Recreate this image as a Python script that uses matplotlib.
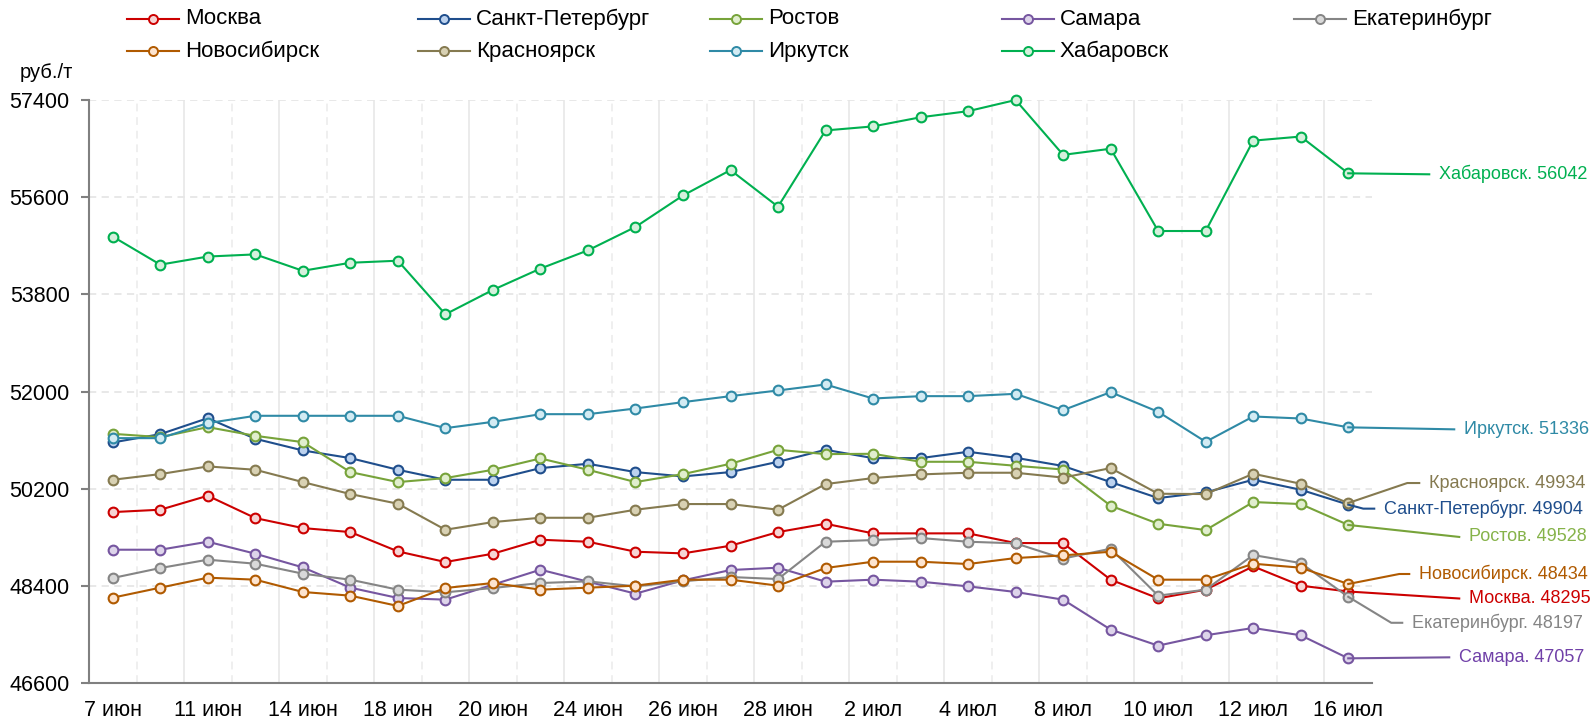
import matplotlib
matplotlib.use("Agg")
import matplotlib.pyplot as plt
from matplotlib.lines import Line2D

plt.rcParams['font.family'] = ['Liberation Sans', 'DejaVu Sans']

# даты торгов (подписи только на каждой второй)
dates = ['7 июн', '10 июн', '11 июн', '13 июн', '14 июн', '15 июн', '18 июн', '19 июн',
         '20 июн', '21 июн', '24 июн', '25 июн', '26 июн', '27 июн', '28 июн', '1 июл',
         '2 июл', '3 июл', '4 июл', '5 июл', '8 июл', '9 июл', '10 июл', '11 июл',
         '12 июл', '15 июл', '16 июл']

# цены, руб./т
moskva = [49766, 49810, 50069, 49655, 49470, 49396, 49038, 48841, 48995, 49254, 49217,
          49032, 49001, 49143, 49396, 49550, 49372, 49372, 49372, 49193, 49190, 48514,
          48168, 48329, 48760, 48403, 48295]
spb = [51056, 51210, 51506, 51124, 50908, 50766, 50550, 50365, 50365, 50581, 50661,
       50507, 50427, 50507, 50698, 50920, 50766, 50766, 50883, 50772, 50620, 50322,
       50026, 50131, 50365, 50180, 49904]
rostov = [51216, 51155, 51340, 51179, 51062, 50507, 50322, 50396, 50550, 50760, 50550,
          50322, 50470, 50661, 50920, 50840, 50846, 50698, 50698, 50624, 50555, 49884,
          49550, 49433, 49952, 49915, 49528]
samara = [49069, 49069, 49217, 48995, 48742, 48366, 48175, 48144, 48421, 48699, 48477,
          48255, 48501, 48693, 48736, 48477, 48514, 48477, 48390, 48286, 48144, 47589,
          47292, 47484, 47619, 47484, 47057]
ekb = [48545, 48730, 48884, 48810, 48625, 48514, 48329, 48280, 48360, 48452, 48483,
       48390, 48483, 48563, 48526, 49217, 49248, 49285, 49217, 49187, 48905, 49088,
       48218, 48329, 48970, 48822, 48197]
novosib = [48181, 48366, 48551, 48514, 48286, 48218, 48027, 48360, 48452, 48329, 48366,
           48403, 48514, 48514, 48403, 48730, 48847, 48847, 48804, 48915, 48964, 49032,
           48514, 48514, 48810, 48736, 48434]
krasn = [50365, 50470, 50612, 50550, 50322, 50100, 49921, 49439, 49581, 49661, 49661,
         49810, 49915, 49915, 49810, 50285, 50396, 50464, 50495, 50495, 50405, 50581,
         50106, 50100, 50476, 50291, 49934]
irk = [51136, 51136, 51414, 51550, 51550, 51550, 51550, 51321, 51438, 51580, 51580,
       51685, 51803, 51914, 52019, 52130, 51870, 51914, 51914, 51957, 51655, 51988,
       51624, 51068, 51537, 51500, 51336]
khab = [54870, 54350, 54500, 54540, 54236, 54385, 54423, 53430, 53882, 54277, 54615,
        55048, 55631, 56102, 55424, 56836, 56911, 57080, 57193, 57400, 56384, 56497,
        54973, 54973, 56647, 56723, 56042]

names = ['Москва', 'Санкт-Петербург', 'Ростов', 'Самара', 'Екатеринбург',
         'Новосибирск', 'Красноярск', 'Иркутск', 'Хабаровск']
series = [moskva, spb, rostov, samara, ekb, novosib, krasn, irk, khab]

yticks = [46600, 48400, 50200, 52000, 53800, 55600, 57400]

colors = ['#cc0000', '#1f4e8c', '#77a33a', '#7656a0', '#858585',
          '#b05a00', '#857a50', '#2f8aa6', '#00b050']
faces = ['#f6d4d4', '#bcd2ee', '#e0eecd', '#ddd4ea', '#d9d9d9',
         '#fde4cf', '#d8d1b3', '#d2ebf3', '#d5f0dc']
label_colors = ['#cc0000', '#1f4e8c', '#86b34a', '#7040a8', '#858585',
                '#b05a00', '#857a50', '#2f8aa6', '#00b050']

# выноски подписей в пикселях от последней точки: (dx колена, dy колена, dx конца)
leaders = [(111, 7, 111), (15, 4, 26), (111, 12, 111), (101, -1, 101), (43, 26, 54),
           (51, -10, 61), (59, -20, 71), (106, 2, 106), (81, 1, 81)]

W, H = 1593, 722
fig = plt.figure(figsize=(W / 100, H / 100), dpi=100)
ax = fig.add_axes([89 / W, 39 / H, 1283 / W, 583 / H])

x = list(range(len(dates)))
ax.set_xlim(-0.5, len(dates) - 0.5)
ax.set_ylim(46600, 57400)

# вертикальная сетка по границам категорий: сплошная через одну, между ними пунктир
for k in range(1, len(dates)):
    if k % 2 == 0:
        ax.axvline(k - 0.5, color='#ebebeb', lw=1.4, zorder=0)
    else:
        ax.axvline(k - 0.5, color='#efefef', lw=1.4, ls=(0, (4, 3)), zorder=0)

for i, (name, vals) in enumerate(zip(names, series)):
    ax.plot(x, vals, color=colors[i], lw=1.5, marker='o', ms=7, mfc=faces[i],
            mec=colors[i], mew=1.5, clip_on=False, zorder=3)
    # выноска и подпись последнего значения (пиксели фигуры)
    kx, ky, ex = leaders[i]
    bx, by = ax.transData.transform((x[-1], vals[-1]))
    xs = [bx, bx + kx, bx + ex]
    ys = [by, by - ky, by - ky]
    fig.add_artist(Line2D([v / W for v in xs], [v / H for v in ys],
                          color=colors[i], lw=1.5, zorder=2))
    fig.text((bx + ex + 10) / W, (by - ky) / H, '%s. %d' % (name, vals[-1]),
             color=label_colors[i], fontsize=13, ha='left', va='center')

ax.set_yticks(yticks)
ax.set_yticklabels([str(v) for v in yticks], fontsize=15.5)
ax.set_xticks(x[::2])
ax.set_xticklabels(dates[::2], fontsize=15.5)
ax.tick_params(axis='x', length=0, pad=12)
ax.tick_params(axis='y', length=6, width=1.5, color='#808080', pad=8, direction='out')
ax.yaxis.grid(True, color='#e6e6e6', lw=1.3, ls=(0, (4, 3)), zorder=0)
ax.set_axisbelow(True)

for s in ['top', 'right']:
    ax.spines[s].set_visible(False)
for s in ['left', 'bottom']:
    ax.spines[s].set_color('#808080')
    ax.spines[s].set_linewidth(1.5)

fig.text(20 / W, 1 - 73 / H, 'руб./т', fontsize=14.5, ha='left', va='center')

# легенда вручную: 5 колонок, 2 строки
col_x = [127, 418, 710, 1002, 1294]
row_y = [19, 51]
for i, name in enumerate(names):
    cx = col_x[i % 5]
    cy = H - row_y[i // 5]
    fig.add_artist(Line2D([cx / W, (cx + 52) / W], [cy / H, cy / H],
                          color=colors[i], lw=1.5))
    fig.add_artist(Line2D([(cx + 26) / W], [cy / H], marker='o', ms=6.5,
                          mfc=faces[i], mec=colors[i], mew=1.4, color=colors[i]))
    fig.text((cx + 58) / W, cy / H, name, fontsize=16, ha='left', va='center',
             family=['Liberation Sans Narrow', 'Liberation Sans'])

fig.savefig('out.png', dpi=100)
